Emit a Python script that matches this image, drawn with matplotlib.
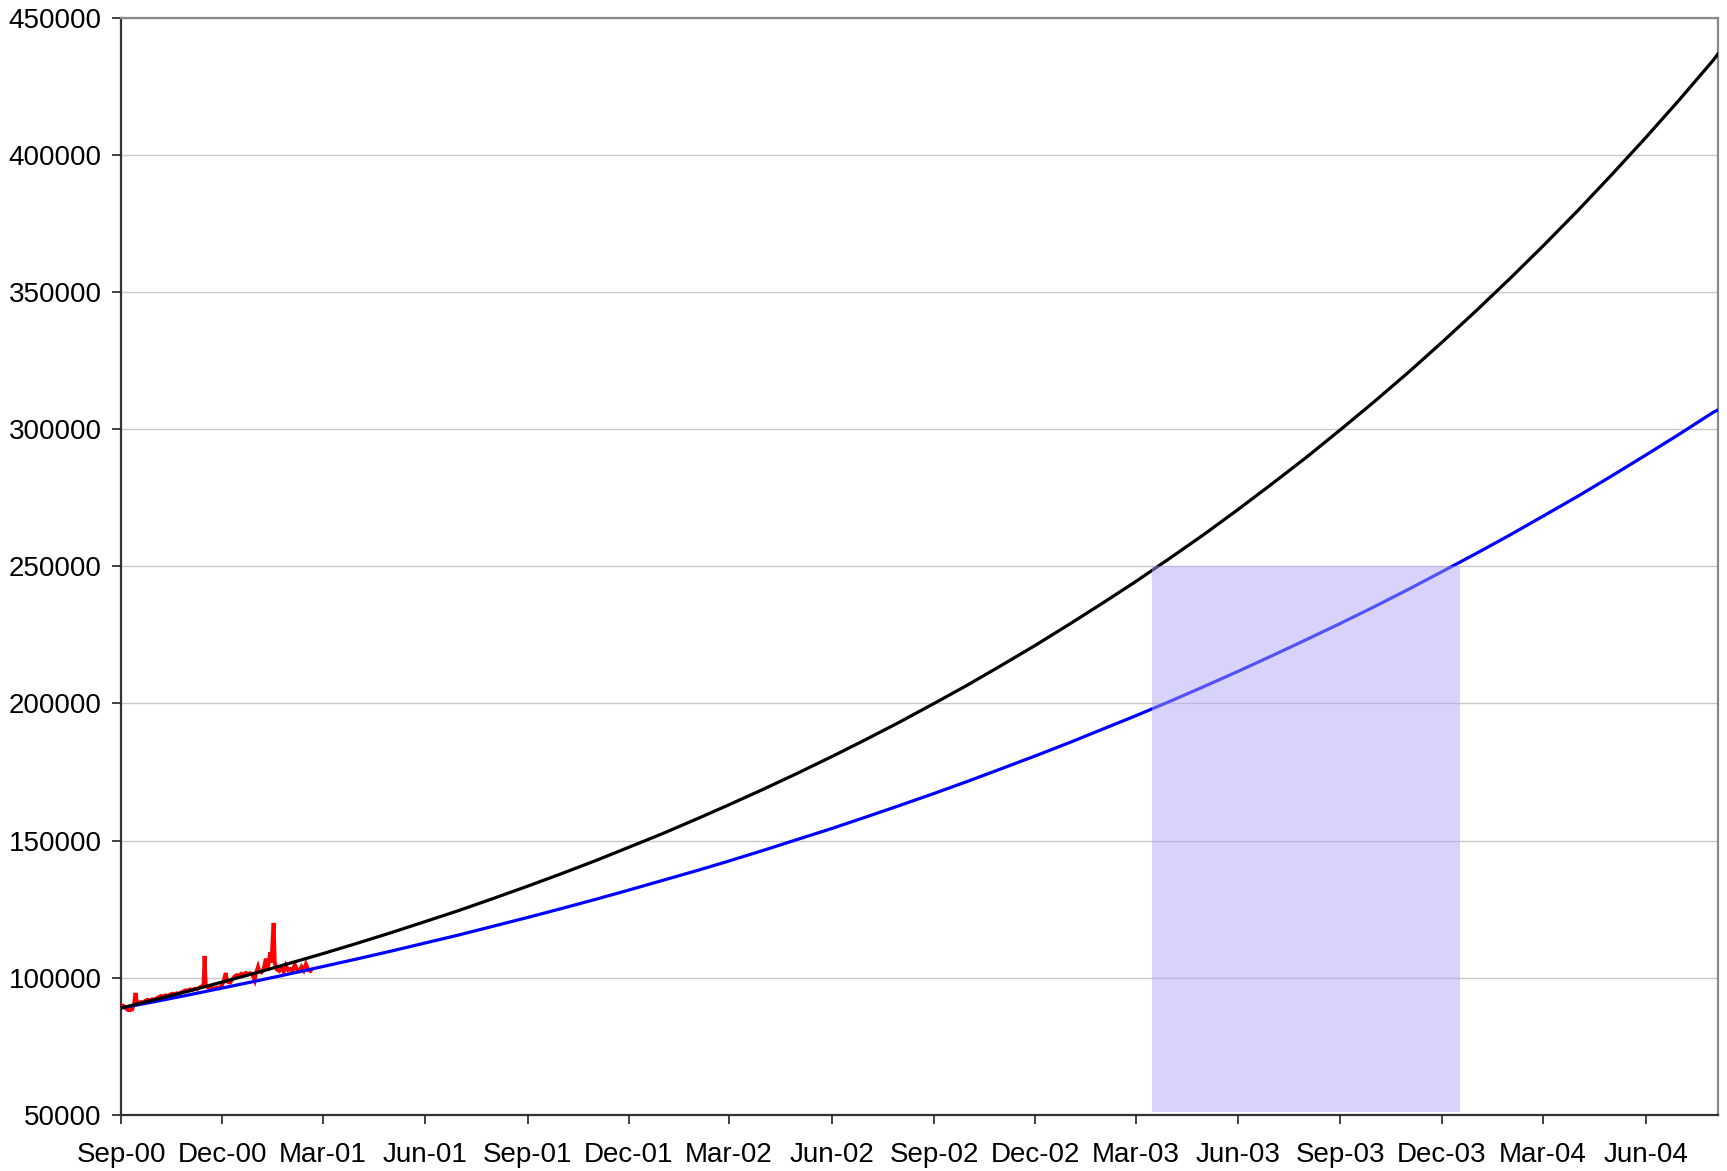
import matplotlib
matplotlib.use("Agg")
import matplotlib.pyplot as plt
import matplotlib.dates as mdates
import pandas as pd
import datetime as dt

plt.rcParams['font.family'] = ['Liberation Sans', 'DejaVu Sans']

# ---- data ----
tick_labels = ["Sep-00", "Dec-00", "Mar-01", "Jun-01", "Sep-01", "Dec-01", "Mar-02",
               "Jun-02", "Sep-02", "Dec-02", "Mar-03", "Jun-03", "Sep-03", "Dec-03",
               "Mar-04", "Jun-04"]
tick_dates = ["2000-09-01", "2000-12-01", "2001-03-01", "2001-06-01", "2001-09-01",
              "2001-12-01", "2002-03-01", "2002-06-01", "2002-09-01", "2002-12-01",
              "2003-03-01", "2003-06-01", "2003-09-01", "2003-12-01", "2004-03-01",
              "2004-06-01"]

# trend curves, read at each month start Sep-00 .. Aug-04, plus the right edge
trend_dates = [s.strftime("%Y-%m-%d") for s in
               pd.date_range("2000-09-01", "2004-08-01", freq="MS")] + ["2004-08-05"]
trend_high = [89000, 92000, 95200, 98500, 101900, 105500, 108800, 112600, 116400,
              120500, 124500, 128900, 133400, 137900, 142700, 147600, 152700, 158100,
              163100, 168800, 174500, 180600, 186700, 193200, 200000, 206700, 214000,
              221200, 229000, 237000, 244400, 253000, 261500, 270700, 279900, 289600,
              299800, 309900, 320700, 331600, 343200, 355200, 366800, 379600, 392500,
              406200, 419900, 434600, 436800]
trend_low = [89000, 91300, 93800, 96300, 98900, 101600, 104100, 106900, 109700,
             112700, 115600, 118800, 122000, 125200, 128600, 132000, 135600, 139200,
             142600, 146500, 150400, 154400, 158500, 162800, 167200, 171600, 176300,
             180900, 185800, 190900, 195500, 200800, 206100, 211700, 217300, 223200,
             229200, 235200, 241600, 248000, 254700, 261600, 268300, 275500, 282800,
             290500, 298100, 306200, 307000]

# observed data (day offset from Sep 1 2000, value)
obs_days = [0, 2, 4, 6, 8, 10, 12, 13, 14, 16, 18, 20, 22, 24, 26, 28, 30, 32, 34, 36,
            38, 40, 42, 44, 46, 48, 50, 52, 54, 56, 58, 60, 62, 64, 66, 68, 70, 72, 74,
            75, 76, 78, 80, 82, 84, 86, 88, 90, 92, 94, 95, 96, 98, 100, 102, 104, 106,
            108, 110, 112, 114, 116, 118, 120, 121, 123, 124, 126, 128, 130, 131, 132,
            134, 135, 137, 138, 140, 142, 144, 146, 148, 150, 152, 154, 156, 158, 160,
            162, 164, 166, 168, 170]
obs_values = [90000, 89800, 89000, 88300, 88200, 88500, 91000, 94500, 91500, 90800,
              91200, 91000, 91700, 92000, 91600, 92200, 92000, 92600, 93000, 93400,
              93200, 93600, 93300, 93900, 94200, 94000, 94400, 94200, 94700, 95000,
              95500, 95300, 95800, 95500, 96000, 95800, 96400, 96800, 97000, 108000,
              97500, 96500, 96800, 96300, 96000, 96500, 96200, 97000, 98500, 101800,
              99000, 98500, 98300, 99500, 100500, 101000, 100800, 101500, 101200,
              101800, 101300, 101700, 101200, 99200, 101500, 104000, 102500, 102000,
              103000, 107000, 104500, 104000, 109300, 105500, 120000, 105500, 103000,
              102500, 103500, 102200, 104500, 102800, 103200, 102600, 104800, 103000,
              102500, 104000, 102700, 105000, 103000, 102500]

# shaded target window
shade_start = "2003-03-16"
shade_end = "2003-12-17"
shade_low = 51000
shade_high = 250000

y_ticks = [50000, 100000, 150000, 200000, 250000, 300000, 350000, 400000, 450000]

# ---- plot ----
def d(s):
    return dt.datetime.strptime(s, "%Y-%m-%d")

fig = plt.figure(figsize=(17.27, 11.71), dpi=100)
ax = fig.add_axes([0.0701, 0.0478, 0.9247, 0.9372])

tdates = [d(s) for s in trend_dates]
obs_dates = [dt.datetime(2000, 9, 1) + dt.timedelta(days=k) for k in obs_days]

ax.plot(obs_dates, obs_values, color='#ff0000', lw=2.8, zorder=3,
        solid_joinstyle='miter')
ax.plot(tdates, trend_low, color='#0000ff', lw=2.3, zorder=4)
ax.plot(tdates, trend_high, color='#000000', lw=2.3, zorder=5)

x0 = mdates.date2num(d(shade_start))
x1 = mdates.date2num(d(shade_end))
ax.fill_between([x0, x1], [shade_low, shade_low], [shade_high, shade_high],
                color=(175/255, 167/255, 245/255), alpha=0.49, lw=0, zorder=6)

ax.set_xlim(d("2000-09-01"), d("2004-08-05"))
ax.set_ylim(50000, 450000)
ax.set_yticks(y_ticks)
ax.set_yticklabels([str(v) for v in y_ticks])
ax.set_xticks([d(s) for s in tick_dates])
ax.set_xticklabels(tick_labels)

ax.grid(axis='y', color='#c8c8c8', lw=1.0, zorder=0)
ax.set_axisbelow(True)

ax.tick_params(axis='both', direction='out', length=6.5, width=1.3, color='#333333',
               labelsize=20, labelcolor='#000000')
ax.tick_params(axis='y', pad=7.5)
ax.tick_params(axis='x', pad=13)

for side in ['left', 'bottom']:
    ax.spines[side].set_color('#333333')
    ax.spines[side].set_linewidth(1.6)
for side in ['top', 'right']:
    ax.spines[side].set_color('#888888')
    ax.spines[side].set_linewidth(1.6)

fig.savefig("out.png", dpi=100)
